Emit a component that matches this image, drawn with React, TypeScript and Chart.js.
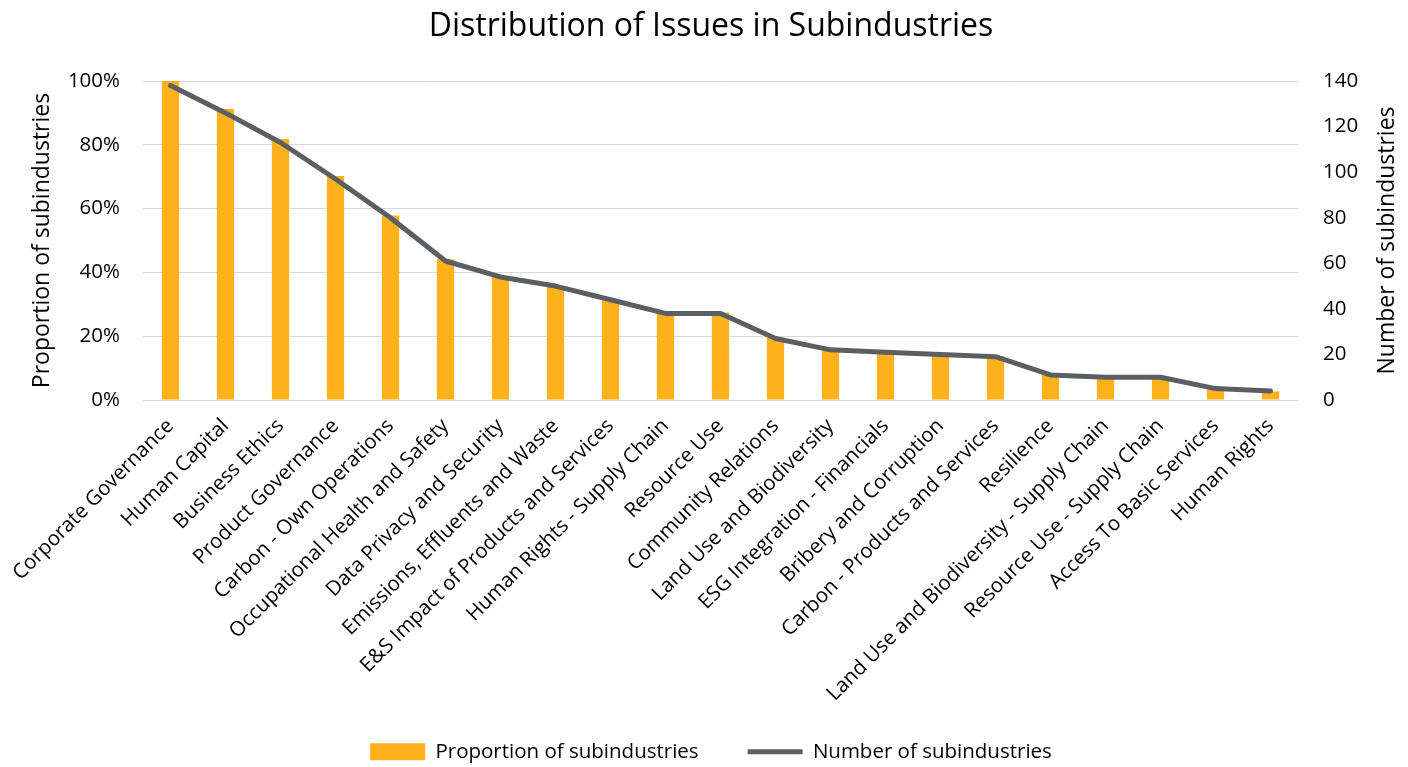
import React, { useEffect, useRef } from "react";
import { Chart, registerables } from "chart.js";

Chart.register(...registerables);

const chartTitle = "Distribution of Issues in Subindustries";
const leftAxisTitle = "Proportion of subindustries";
const rightAxisTitle = "Number of subindustries";
const barSeriesName = "Proportion of subindustries";
const lineSeriesName = "Number of subindustries";

const categories = [
  "Corporate Governance",
  "Human Capital",
  "Business Ethics",
  "Product Governance",
  "Carbon - Own Operations",
  "Occupational Health and Safety",
  "Data Privacy and Security",
  "Emissions, Effluents and Waste",
  "E&S Impact of Products and Services",
  "Human Rights - Supply Chain",
  "Resource Use",
  "Community Relations",
  "Land Use and Biodiversity",
  "ESG Integration - Financials",
  "Bribery and Corruption",
  "Carbon - Products and Services",
  "Resilience",
  "Land Use and Biodiversity - Supply Chain",
  "Resource Use - Supply Chain",
  "Access To Basic Services",
  "Human Rights",
];

// proportion of subindustries (fraction)
const proportionValues = [
  1.0, 0.912, 0.818, 0.702, 0.578, 0.441, 0.387, 0.357, 0.313, 0.274, 0.274,
  0.196, 0.159, 0.152, 0.145, 0.138, 0.08, 0.072, 0.072, 0.032, 0.027,
];

// number of subindustries
const countValues = [
  138, 126, 113, 97, 80, 61, 54, 50, 44, 38, 38, 27, 22, 21, 20, 19, 11, 10, 10,
  5, 4,
];

const leftMin = 0;
const leftMax = 1;
const leftStep = 0.2;
const rightMin = 0;
const rightMax = 140;
const rightStep = 20;

const FONT = "'Open Sans', sans-serif";
const BAR_COLOR = "#FDB11B";
const LINE_COLOR = "#5B5F63";
const GRID_COLOR = "#D9D9D9";

const rightTitlePlugin = {
  id: "rightTitle",
  afterLayout(chart: any) {
    // let the rotated category labels use the full height below the plot
    const x = chart.scales.x;
    if (x) x.bottom = chart.height;
  },
  afterDraw(chart: any) {
    const ctx = chart.ctx;
    const area = chart.chartArea;
    const scale = chart.scales.y1;
    ctx.save();
    ctx.translate(scale.right - 21, (area.top + area.bottom) / 2);
    ctx.rotate(-Math.PI / 2);
    ctx.font = `23px ${FONT}`;
    ctx.fillStyle = "#000";
    ctx.textAlign = "center";
    ctx.textBaseline = "middle";
    ctx.fillText(rightAxisTitle, 0, 0);
    ctx.restore();
  },
};

export default function App() {
  const canvasRef = useRef<HTMLCanvasElement | null>(null);

  useEffect(() => {
    document.body.style.margin = "0";
    const canvas = canvasRef.current;
    if (!canvas) return;
    const chart = new Chart(canvas, {
      type: "bar",
      data: {
        labels: categories,
        datasets: [
          {
            type: "bar",
            label: barSeriesName,
            data: proportionValues,
            backgroundColor: BAR_COLOR,
            borderWidth: 0,
            yAxisID: "y",
            order: 2,
            barPercentage: 0.63,
            categoryPercentage: 0.5,
            pointStyle: "rect",
          } as any,
          {
            type: "line",
            label: lineSeriesName,
            data: countValues,
            borderColor: LINE_COLOR,
            backgroundColor: LINE_COLOR,
            borderWidth: 5,
            pointRadius: 0,
            pointHoverRadius: 0,
            tension: 0,
            borderCapStyle: "round",
            borderJoinStyle: "round",
            yAxisID: "y1",
            order: 1,
            pointStyle: "line",
          } as any,
        ],
      },
      options: {
        animation: false,
        responsive: true,
        maintainAspectRatio: false,
        layout: { padding: { left: 14, right: 0, top: 0, bottom: -5 } },
        plugins: {
          title: {
            display: true,
            text: chartTitle,
            color: "#000",
            font: { family: FONT, size: 32, weight: "normal" },
            padding: { top: 8, bottom: 34.6 },
          },
          legend: {
            display: true,
            position: "bottom",
            labels: {
              usePointStyle: true,
              pointStyleWidth: 55,
              boxHeight: 17,
              padding: 49,
              color: "#000",
              font: { family: FONT, size: 20.5 },
              sort: (a: any, b: any) => a.datasetIndex - b.datasetIndex,
            },
          },
          tooltip: { enabled: false },
        },
        scales: {
          x: {
            grid: { display: false },
            border: { display: false },
            ticks: {
              autoSkip: false,
              maxRotation: 45,
              minRotation: 45,
              color: "#000",
              padding: 6,
              font: { family: FONT, size: 20.5 },
            },
            afterFit: (axis: any) => {
              const legendH = axis.chart.legend ? axis.chart.legend.height : 0;
              axis.height = axis.chart.height + 5 - 400 - legendH;
            },
          },
          y: {
            position: "left",
            min: leftMin,
            max: leftMax,
            grid: { color: GRID_COLOR, lineWidth: 1, drawTicks: false },
            border: { display: false },
            ticks: {
              stepSize: leftStep,
              color: "#000",
              padding: 23,
              font: { family: FONT, size: 20.5 },
              callback: (v: any) => Math.round(Number(v) * 100) + "%",
            },
            title: {
              display: true,
              text: leftAxisTitle,
              color: "#000",
              font: { family: FONT, size: 23 },
              padding: { top: 14.2, bottom: 0 },
            },
            afterFit: (axis: any) => {
              axis.width = 129;
            },
          },
          y1: {
            position: "right",
            min: rightMin,
            max: rightMax,
            grid: { display: false, drawTicks: false },
            border: { display: false },
            ticks: {
              stepSize: rightStep,
              color: "#000",
              padding: 25,
              font: { family: FONT, size: 20.5 },
            },
            afterFit: (axis: any) => {
              axis.width = 110;
            },
          },
        },
      } as any,
      plugins: [rightTitlePlugin],
    });
    return () => chart.destroy();
  }, []);

  return (
    <div
      style={{
        position: "absolute",
        left: 0,
        top: 0,
        width: 1408,
        height: 767,
        background: "#fff",
      }}
    >
      <canvas ref={canvasRef} />
    </div>
  );
}
